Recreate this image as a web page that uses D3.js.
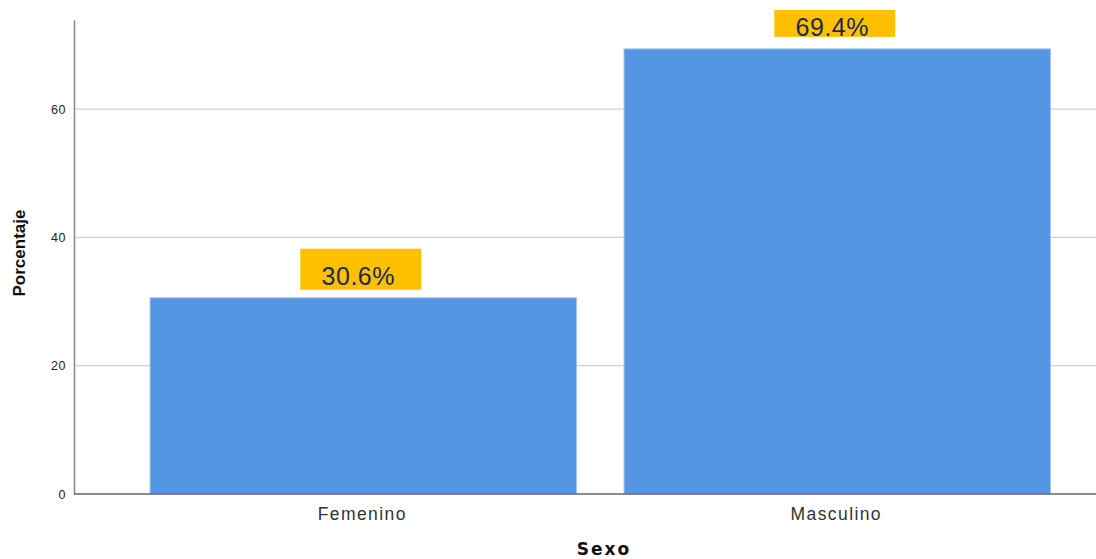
<!DOCTYPE html>
<html><head><meta charset="utf-8">
<script src="https://cdn.jsdelivr.net/npm/d3@7"></script>
<style>body{margin:0;background:#fff;}svg{display:block;font-family:Arial,"Liberation Sans",sans-serif;}</style>
</head><body><div id="chart"></div>
<script>
const categories = ["Femenino", "Masculino"];
const values = [30.6, 69.4];
const yTicks = [0, 20, 40, 60];
const xTitle = "Sexo";
const yTitle = "Porcentaje";

const W = 1096, H = 559;
const svg = d3.select("#chart").append("svg").attr("width", W).attr("height", H);

const y = d3.scaleLinear().domain([0, 73.9]).range([494, 20]);
const x = d3.scaleBand().domain(categories).range([126.3, 1074.3]).paddingInner(0.1).paddingOuter(0.05);
const axisX = 74;

// gridlines
svg.append("g").selectAll("line").data(yTicks.filter(d => d > 0)).join("line")
  .attr("x1", axisX).attr("x2", W).attr("y1", d => y(d)).attr("y2", d => y(d))
  .attr("stroke", "#cfcfcf").attr("stroke-width", 1.2);

// bars
svg.append("g").selectAll("rect").data(values).join("rect")
  .attr("x", (d, i) => x(categories[i])).attr("width", x.bandwidth())
  .attr("y", d => y(d)).attr("height", d => y(0) - y(d))
  .attr("fill", "#5596e3").attr("stroke", "#a9c8ef").attr("stroke-width", 1);

// y axis
const yAxis = d3.axisLeft(y).tickValues(yTicks).tickSize(0).tickPadding(8).tickFormat(d3.format("d"));
const gy = svg.append("g").attr("transform", `translate(${axisX},0)`).call(yAxis);
gy.select(".domain").attr("stroke", "#888").attr("stroke-width", 1.5);
gy.selectAll("text").attr("font-size", 12.5).attr("fill", "#222").attr("letter-spacing", 0.5)
  .attr("font-family", "Arial, 'Liberation Sans', sans-serif");

// x axis
const xAxis = d3.axisBottom(x).tickSize(0).tickPadding(0);
const gx = svg.append("g").attr("transform", `translate(0,${y(0)})`).call(xAxis);
gx.select(".domain").remove();
svg.append("line").attr("x1", axisX).attr("x2", W).attr("y1", y(0)).attr("y2", y(0)).attr("stroke", "#666").attr("stroke-width", 1.5);
gx.selectAll("text").attr("dy", null).attr("y", 26).attr("x", -1)
  .attr("font-size", 17.5).attr("letter-spacing", 1.4).attr("fill", "#333")
  .attr("font-family", "Arial, 'Liberation Sans', sans-serif");

// titles
svg.append("text").attr("x", 604).attr("y", 555)
  .attr("text-anchor", "middle").attr("font-weight", "bold").attr("font-size", 17)
  .attr("font-family", "'DejaVu Sans', sans-serif")
  .attr("letter-spacing", 2).attr("fill", "#111").text(xTitle);
svg.append("text").attr("transform", "translate(25,253) rotate(-90)")
  .attr("text-anchor", "middle").attr("font-weight", "bold").attr("font-size", 17).attr("fill", "#111").text(yTitle);

// labels
const lab = svg.append("g").selectAll("g").data(values).join("g");
lab.append("rect")
  .attr("x", (d, i) => x(categories[i]) + x.bandwidth() / 2 - 63)
  .attr("width", 121)
  .attr("y", d => Math.max(10, y(d) - 49))
  .attr("height", d => (y(d) < 100 ? y(d) - 12 : y(d) - 8) - Math.max(10, y(d) - 49))
  .attr("fill", "#ffc000");
lab.append("text")
  .attr("x", (d, i) => x(categories[i]) + x.bandwidth() / 2 - 5)
  .attr("y", d => y(d) - 13)
  .attr("text-anchor", "middle").attr("font-size", 25).attr("letter-spacing", 0.5).attr("fill", "#1b2a55")
  .text(d => d3.format(".1f")(d) + "%");
</script></body></html>
